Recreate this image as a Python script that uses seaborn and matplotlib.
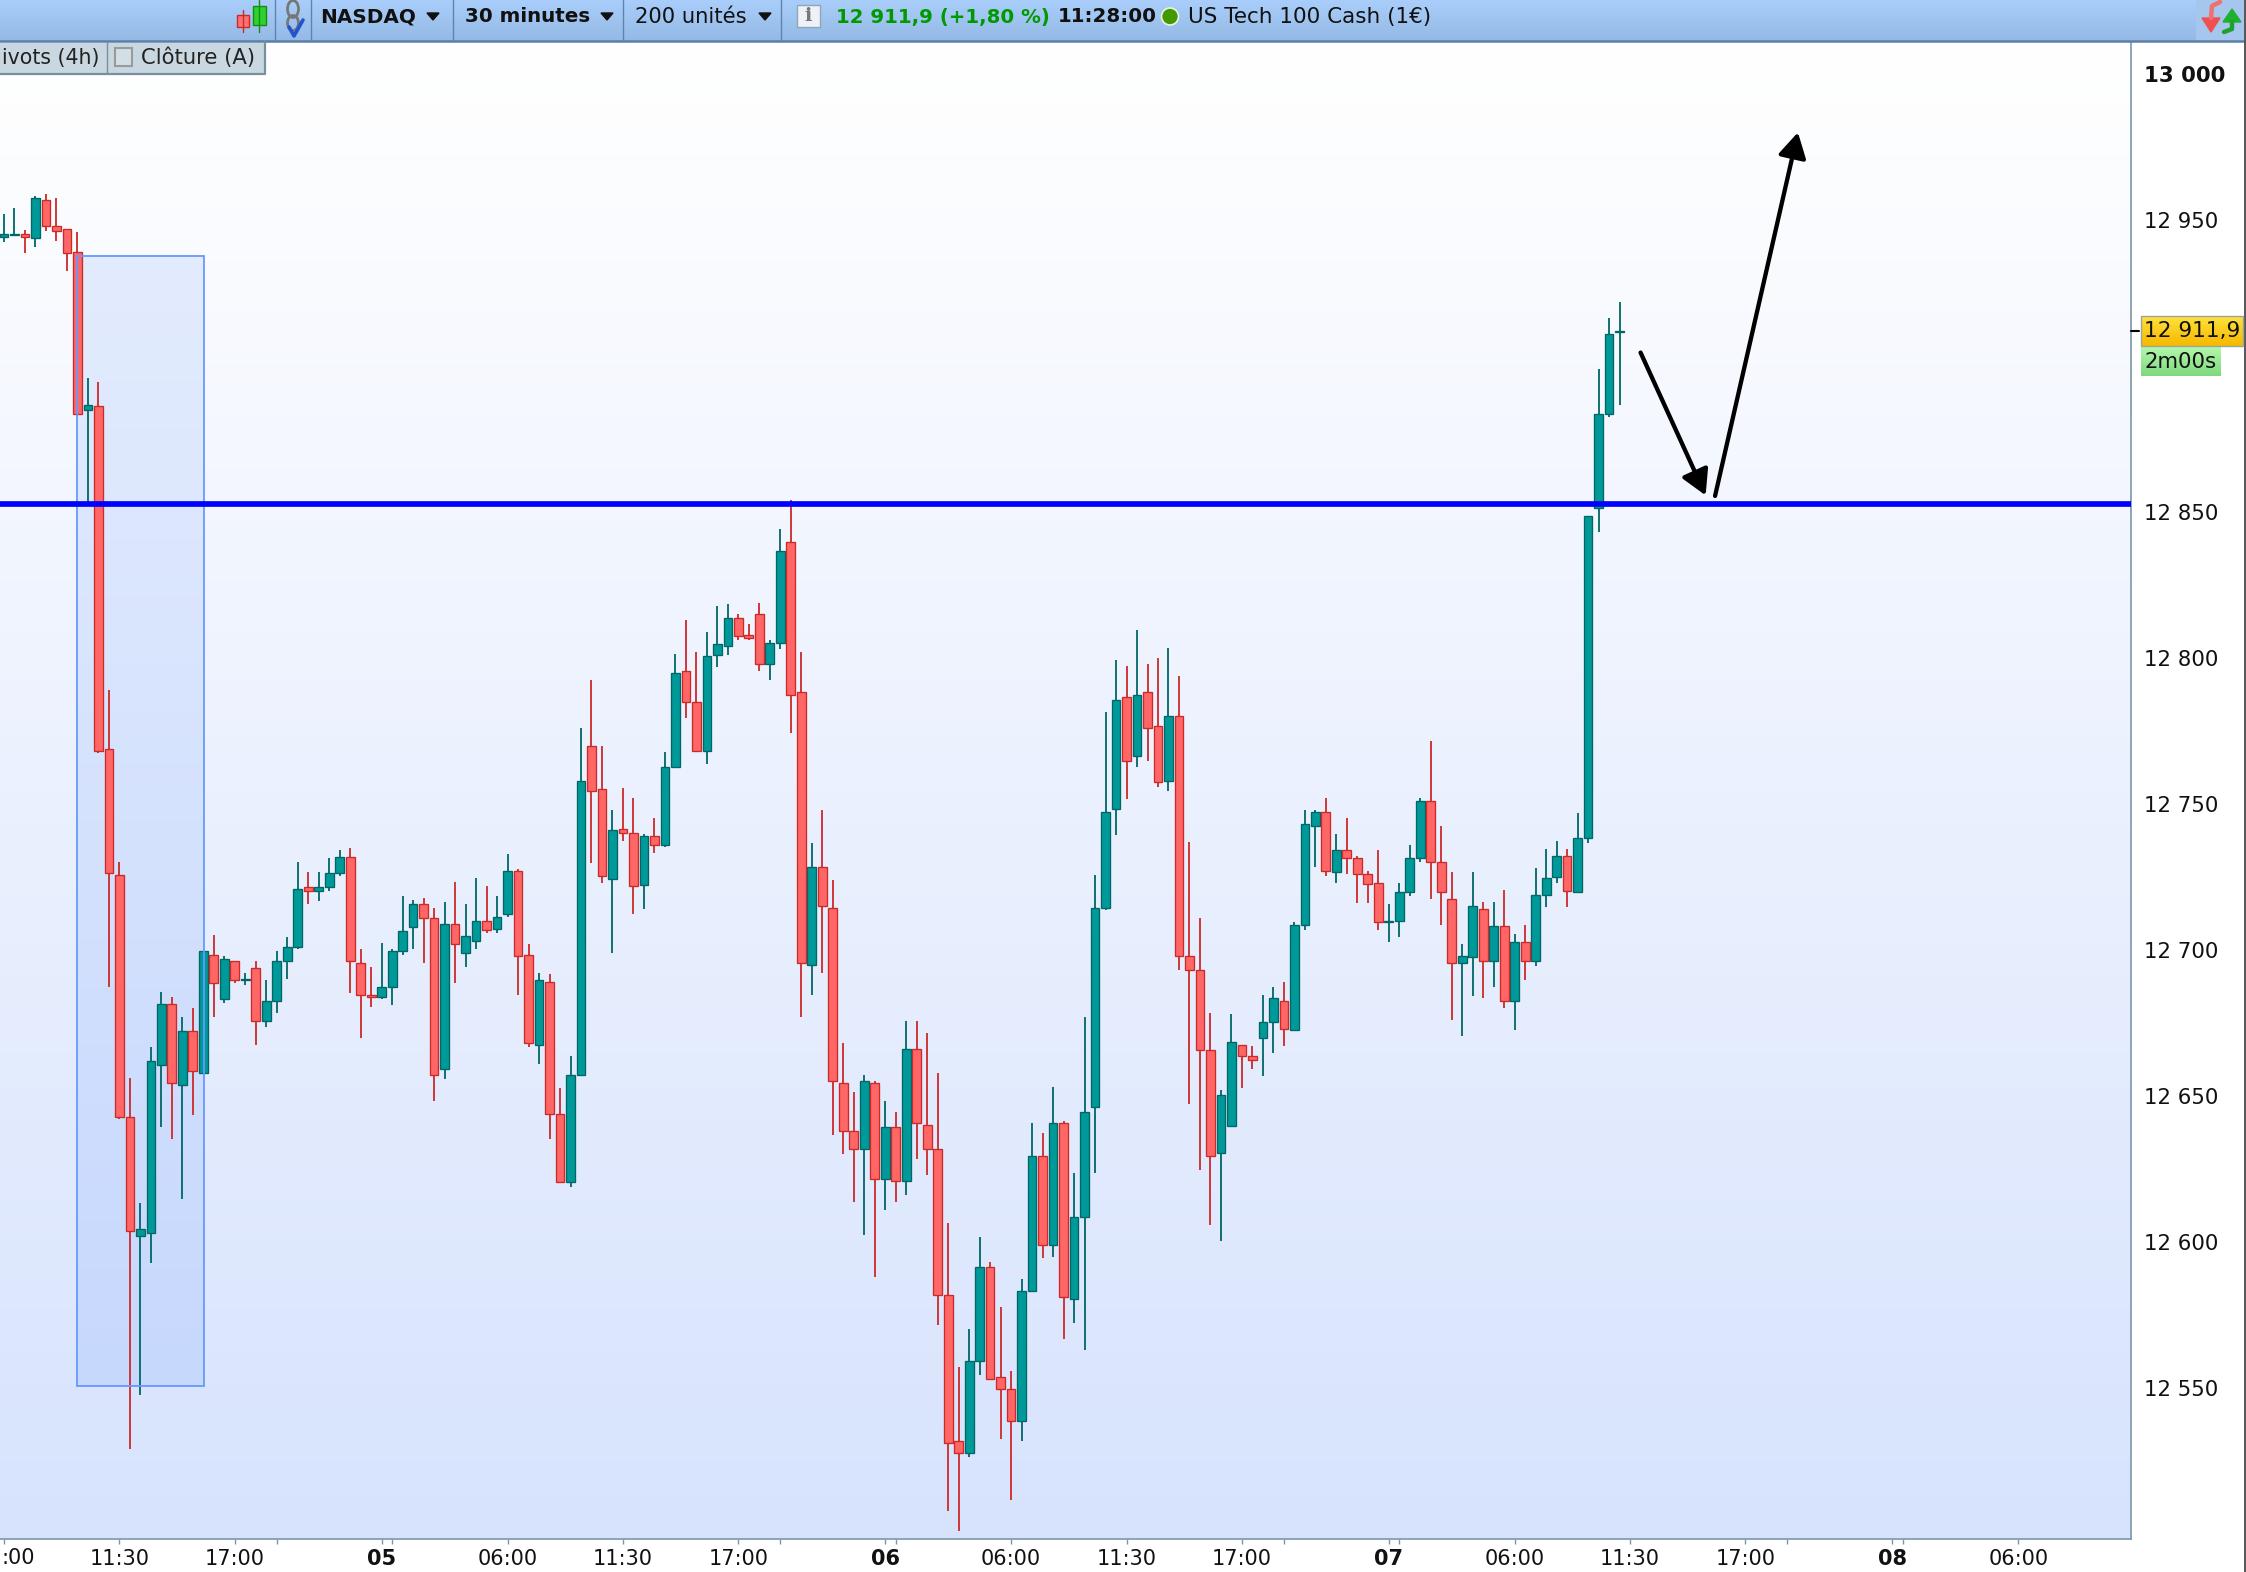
import numpy as np
import pandas as pd
import matplotlib
matplotlib.use("Agg")
import matplotlib.pyplot as plt
from matplotlib.colors import LinearSegmentedColormap
from matplotlib.patches import Rectangle, Polygon, Circle, Ellipse, FancyArrowPatch
import seaborn as sns

# candles (30 minute bars)
opens = [12944.3, 12944.8, 12945.2, 12943.7, 12956.7, 12947.8, 12947.0, 12939.0, 12884.8, 12886.2,
         12769.0, 12725.8, 12642.9, 12602.0, 12603.1, 12660.7, 12681.4, 12653.9, 12672.4, 12658.0,
         12698.4, 12683.3, 12696.3, 12689.6, 12693.7, 12675.8, 12682.6, 12696.3, 12701.2, 12721.7,
         12720.3, 12721.7, 12726.5, 12732.0, 12695.7, 12684.7, 12684.0, 12687.4, 12699.8, 12708.0,
         12715.7, 12710.8, 12659.4, 12708.8, 12699.0, 12703.2, 12710.0, 12707.3, 12712.2, 12727.2,
         12698.4, 12667.5, 12689.0, 12643.7, 12620.4, 12657.3, 12769.7, 12755.3, 12724.4, 12741.5,
         12740.2, 12722.4, 12739.0, 12736.0, 12762.8, 12795.7, 12784.8, 12768.3, 12801.2, 12804.0,
         12813.6, 12808.0, 12815.0, 12797.8, 12805.3, 12839.6, 12788.2, 12695.0, 12728.6, 12714.3,
         12654.6, 12638.1, 12631.9, 12654.6, 12621.7, 12639.5, 12621.0, 12666.2, 12640.2, 12631.9,
         12581.9, 12531.9, 12527.9, 12559.4, 12591.6, 12553.9, 12549.7, 12538.8, 12583.3, 12629.3,
         12599.0, 12640.9, 12580.5, 12608.7, 12646.4, 12714.3, 12748.4, 12786.8, 12766.3, 12788.2,
         12776.6, 12758.0, 12780.0, 12697.9, 12693.0, 12665.6, 12630.6, 12639.6, 12667.6, 12663.6,
         12669.7, 12675.3, 12682.7, 12672.5, 12708.7, 12742.4, 12747.1, 12726.6, 12734.1, 12731.4,
         12725.9, 12723.1, 12709.5, 12710.1, 12719.7, 12731.4, 12751.2, 12730.0, 12717.6, 12695.7,
         12697.7, 12714.2, 12696.4, 12708.1, 12682.7, 12702.6, 12696.4, 12719.0, 12725.1, 12732.1,
         12719.7, 12738.3, 12851.5, 12883.5, 12911.6]
closes = [12945.1, 12945.2, 12944.1, 12957.4, 12947.8, 12946.4, 12938.8, 12883.4, 12886.8, 12768.3,
          12726.5, 12642.9, 12603.9, 12604.5, 12662.1, 12681.4, 12654.5, 12672.4, 12658.6, 12699.8,
          12688.8, 12697.0, 12689.6, 12690.2, 12675.8, 12682.6, 12696.3, 12701.2, 12721.0, 12720.3,
          12721.7, 12726.5, 12732.0, 12696.3, 12684.7, 12684.0, 12687.5, 12699.8, 12706.6, 12715.6,
          12710.8, 12657.3, 12708.8, 12702.0, 12704.7, 12710.0, 12706.7, 12711.4, 12727.2, 12697.8,
          12668.3, 12689.6, 12643.7, 12620.4, 12657.3, 12758.0, 12754.5, 12725.2, 12741.0, 12740.2,
          12721.8, 12739.0, 12736.0, 12762.8, 12795.0, 12784.8, 12768.3, 12800.6, 12804.7, 12813.6,
          12807.5, 12806.7, 12797.8, 12805.3, 12836.8, 12787.4, 12695.7, 12728.6, 12715.0, 12655.3,
          12638.1, 12631.9, 12655.3, 12621.7, 12639.5, 12621.0, 12666.2, 12640.9, 12631.9, 12581.9,
          12531.2, 12527.9, 12559.4, 12591.6, 12553.2, 12549.7, 12538.8, 12583.3, 12629.3, 12599.0,
          12640.9, 12581.2, 12608.7, 12644.4, 12714.3, 12747.1, 12785.5, 12764.9, 12787.5, 12775.9,
          12757.4, 12780.0, 12697.9, 12693.0, 12665.6, 12629.4, 12650.5, 12668.4, 12663.6, 12662.3,
          12675.3, 12683.4, 12673.1, 12708.7, 12743.0, 12747.1, 12727.2, 12734.1, 12731.4, 12725.9,
          12722.5, 12709.5, 12710.1, 12719.7, 12731.4, 12751.2, 12730.0, 12719.7, 12695.7, 12697.9,
          12715.0, 12696.4, 12708.1, 12682.7, 12702.6, 12696.4, 12719.0, 12724.5, 12732.1, 12720.3,
          12738.3, 12848.5, 12883.5, 12910.9, 12911.9]
highs = [12952.1, 12954.0, 12946.6, 12958.2, 12959.0, 12957.6, 12947.0, 12946.0, 12895.8, 12894.6,
         12789.1, 12730.0, 12656.1, 12613.5, 12666.8, 12685.6, 12684.0, 12677.1, 12680.0, 12699.8,
         12705.3, 12697.8, 12696.3, 12692.2, 12696.3, 12689.6, 12699.8, 12704.5, 12730.0, 12726.6,
         12726.6, 12731.4, 12734.2, 12735.0, 12700.4, 12694.3, 12702.5, 12700.4, 12718.4, 12717.1,
         12717.7, 12714.3, 12716.5, 12723.3, 12715.7, 12724.6, 12722.0, 12718.5, 12732.8, 12727.9,
         12702.0, 12692.3, 12691.7, 12652.7, 12663.7, 12776.0, 12792.5, 12769.7, 12748.0, 12755.5,
         12752.0, 12739.6, 12745.2, 12767.7, 12801.3, 12813.0, 12802.0, 12808.8, 12817.7, 12818.5,
         12815.0, 12811.6, 12819.0, 12806.0, 12844.3, 12854.0, 12802.0, 12736.8, 12747.8, 12724.0,
         12668.2, 12651.3, 12657.3, 12655.3, 12648.3, 12644.4, 12675.8, 12675.8, 12671.7, 12658.0,
         12606.6, 12557.3, 12570.3, 12601.8, 12593.0, 12577.9, 12556.0, 12587.4, 12640.9, 12637.4,
         12653.2, 12641.6, 12623.8, 12677.2, 12725.8, 12781.5, 12799.3, 12797.2, 12809.6, 12797.9,
         12800.0, 12803.4, 12793.9, 12736.9, 12710.9, 12678.6, 12651.9, 12678.0, 12667.6, 12667.0,
         12684.7, 12687.5, 12688.9, 12709.5, 12748.0, 12747.9, 12751.9, 12739.6, 12745.1, 12732.1,
         12727.2, 12734.1, 12715.6, 12723.1, 12736.1, 12751.9, 12771.7, 12742.4, 12726.6, 12701.9,
         12726.6, 12716.4, 12716.4, 12720.4, 12705.4, 12708.7, 12728.0, 12734.7, 12737.5, 12734.7,
         12747.0, 12848.5, 12899.1, 12916.4, 12921.9]
lows = [12942.3, 12944.7, 12938.8, 12940.8, 12946.4, 12942.8, 12932.5, 12883.0, 12853.0, 12767.5,
        12687.4, 12642.2, 12529.0, 12547.6, 12592.9, 12639.4, 12635.3, 12614.8, 12643.5, 12658.0,
        12677.1, 12682.0, 12688.8, 12688.1, 12667.6, 12673.8, 12678.5, 12690.2, 12700.4, 12715.6,
        12716.9, 12720.3, 12725.2, 12685.3, 12669.7, 12680.6, 12683.3, 12681.2, 12698.4, 12700.4,
        12695.7, 12648.4, 12655.9, 12688.8, 12694.3, 12700.4, 12705.9, 12705.9, 12711.4, 12684.7,
        12666.9, 12660.8, 12635.4, 12620.4, 12618.8, 12657.3, 12729.8, 12722.9, 12699.0, 12737.4,
        12712.2, 12714.2, 12733.3, 12735.4, 12762.2, 12779.3, 12768.3, 12763.6, 12797.0, 12801.2,
        12806.0, 12806.0, 12795.7, 12792.3, 12803.2, 12774.4, 12677.2, 12684.7, 12692.3, 12636.7,
        12630.0, 12613.6, 12602.5, 12588.1, 12610.8, 12613.6, 12616.2, 12628.6, 12623.0, 12571.7,
        12508.0, 12501.0, 12526.5, 12554.6, 12553.2, 12532.6, 12511.5, 12531.9, 12583.3, 12594.4,
        12595.0, 12566.8, 12572.4, 12562.9, 12623.8, 12713.6, 12739.5, 12751.8, 12762.7, 12764.8,
        12755.9, 12754.5, 12693.0, 12647.1, 12624.5, 12606.0, 12600.5, 12639.6, 12652.6, 12659.4,
        12656.7, 12664.9, 12667.0, 12672.5, 12706.7, 12728.6, 12725.2, 12723.1, 12725.9, 12716.2,
        12716.2, 12706.7, 12702.6, 12704.6, 12718.4, 12730.0, 12717.6, 12708.7, 12675.9, 12670.4,
        12684.1, 12683.4, 12687.5, 12680.0, 12672.5, 12689.6, 12694.4, 12714.8, 12723.1, 12714.8,
        12719.7, 12736.8, 12843.0, 12882.7, 12886.5]

# axis labels
price_ticks = [13000, 12950, 12900, 12850, 12800, 12750, 12700, 12650, 12600, 12550]
time_ticks = [0, 11, 22, 26, 36, 37, 48, 59, 70, 74, 84, 85, 96, 107, 118, 122,
              132, 133, 144, 155, 166, 170, 180, 181, 192]
time_labels = ["", "11:30", "17:00", "", "05", "", "06:00", "11:30", "17:00", "", "06", "",
               "06:00", "11:30", "17:00", "", "07", "", "06:00", "11:30", "17:00", "", "08", "", "06:00"]
bold_labels = ["05", "06", "07", "08"]

# drawn objects on the chart
level = 12852.8
last_price = 12911.9
zone_idx = [7.0, 19.07]
zone_price = [12550.7, 12937.7]
arrow_down = [(156.0, 12904.6), (162.2, 12855.7)]
arrow_up = [(163.1, 12855.5), (171.0, 12980.0)]

UP_FILL, UP_EDGE = "#009999", "#006666"
DOWN_FILL, DOWN_EDGE = "#ff6666", "#cc2929"
AXIS_COL = "#7a97ab"
W, H = 2246, 1572
PLOT_RIGHT, PLOT_TOP, PLOT_BOTTOM = 2130.5, 41, 1539

sns.set_theme(style="white", font="DejaVu Sans")

df = pd.DataFrame({"idx": range(len(opens)), "open": opens, "close": closes, "high": highs, "low": lows})
df["bottom"] = df[["open", "close"]].min(axis=1)
df["body"] = (df["open"] - df["close"]).abs()
df["rising"] = df["close"] >= df["open"]

fig = plt.figure(figsize=(W / 100, H / 100), dpi=100, facecolor="white")
ax = fig.add_axes([0, (H - PLOT_BOTTOM) / H, PLOT_RIGHT / W, (PLOT_BOTTOM - PLOT_TOP) / H])


def vgrad(axis, extent, top, bottom, zorder=0):
    cmap = LinearSegmentedColormap.from_list("g", [top, bottom])
    axis.imshow(np.linspace(0, 1, 256).reshape(-1, 1), cmap=cmap, extent=extent, aspect="auto",
                origin="upper", zorder=zorder, interpolation="bilinear")


xlim = (-0.381, 202.7)
ylim = (12498.3, 13011.3)
vgrad(ax, [xlim[0], xlim[1], ylim[0], ylim[1]], "#ffffff", "#d7e3fd")
vgrad(ax, [zone_idx[0], zone_idx[1], zone_price[0], zone_price[1]], "#e3ecfd", "#c7d8fe", zorder=1)

for rising, fill, edge in [(True, UP_FILL, UP_EDGE), (False, DOWN_FILL, DOWN_EDGE)]:
    part = df[df["rising"] == rising]
    wicks = part.melt(id_vars="idx", value_vars=["high", "low"], value_name="price")
    sns.lineplot(data=wicks, x="idx", y="price", units="idx", estimator=None, color=edge, linewidth=1.3,
                 solid_capstyle="butt", legend=False, zorder=3, ax=ax)
    sns.barplot(data=part, x="idx", y="body", bottom=part["bottom"].values, native_scale=True, width=0.83,
                color=fill, saturation=1, edgecolor=edge, linewidth=0.95, errorbar=None, zorder=4, ax=ax)

ax.add_patch(Rectangle((zone_idx[0], zone_price[0]), zone_idx[1] - zone_idx[0], zone_price[1] - zone_price[0],
                       fill=False, edgecolor="#6699ff", linewidth=1.3, zorder=5))
ax.axhline(level, color="#0000ff", linewidth=4.1, zorder=6)
for start, tip in (arrow_down, arrow_up):
    ax.add_patch(FancyArrowPatch(start, tip, arrowstyle="-|>,head_length=1.5,head_width=0.85", mutation_scale=10,
                                 color="black", linewidth=3.1, shrinkA=0, shrinkB=0, zorder=7))

ax.set_xlim(*xlim)
ax.set_ylim(*ylim)
ax.set_xlabel("")
ax.set_ylabel("")
ax.yaxis.tick_right()
ax.set_yticks(price_ticks)
# 12 900 sits behind the price tags, so it has a tick but no label
ax.set_yticklabels(["" if p == 12900 else f"{p // 1000} {p % 1000:03d}" for p in price_ticks],
                   fontsize=15.3, color="#111111")
ax.get_yticklabels()[0].set_fontweight("bold")
ax.set_xticks(time_ticks)
ax.set_xticklabels(time_labels, fontsize=15, color="#111111")
for lab in ax.get_xticklabels():
    if lab.get_text() in bold_labels:
        lab.set_fontweight("bold")
ax.tick_params(axis="y", length=5.5, width=1, color=AXIS_COL, pad=4.5, right=True, left=False)
ax.tick_params(axis="x", length=3.5, width=1, color=AXIS_COL, pad=4, bottom=True)
sns.despine(ax=ax, left=True, top=True, right=False, bottom=False)
for side in ("right", "bottom"):
    ax.spines[side].set_color(AXIS_COL)
    ax.spines[side].set_linewidth(1.2)

# the program's toolbar and price tags, in picture pixels
ui = fig.add_axes([0, 0, 1, 1], zorder=10)
ui.set_xlim(0, W)
ui.set_ylim(H, 0)
ui.axis("off")
ui.patch.set_alpha(0)

vgrad(ui, [0, W, PLOT_TOP, 0], "#aacefb", "#94b9e4")
ui.plot([0, W], [41, 41], color="#5b7fa8", lw=1.8)
for sx in [275, 311, 453, 622.5, 781]:
    ui.plot([sx, sx], [0, 40], color="#5d84b0", lw=1)

# candle icon
ui.plot([243, 243], [10, 32], color="#cc2929", lw=1)
ui.add_patch(Rectangle((237, 15), 12, 12, facecolor="#ff7070", edgecolor="#cc2929", lw=1))
ui.plot([259, 259], [0, 32], color="#109010", lw=1)
ui.add_patch(Rectangle((253, 6), 13, 19, facecolor="#30d030", edgecolor="#109010", lw=1))
# chain icon with tick
ui.add_patch(Ellipse((293, 9), 11, 17, fill=False, edgecolor="#777777", lw=2))
ui.add_patch(Ellipse((293, 23), 11, 15, fill=False, edgecolor="#777777", lw=2))
ui.plot([289, 294, 303], [27, 36, 20], color="#2255cc", lw=2.6)

for tx in [433, 607, 765]:
    ui.add_patch(Polygon([(tx - 6, 13), (tx + 6, 13), (tx, 20)], color="#111111"))

ui.text(320, 17, "NASDAQ", fontsize=14.4, fontweight="bold", va="center", color="#111111")
ui.text(465, 17, "30 minutes", fontsize=14.3, fontweight="bold", va="center", color="#111111")
ui.text(635, 17, "200 unités", fontsize=15.2, va="center", color="#111111")
ui.add_patch(Rectangle((797, 5), 23, 22, facecolor="#eef2f6", edgecolor="#8fa5b8", lw=1))
ui.text(808.5, 16, "i", fontsize=14, fontweight="bold", ha="center", va="center", color="#777777", family="DejaVu Serif")
ui.text(836, 17, "12 911,9 (+1,80 %)", fontsize=14.2, va="center", color="#009900", fontweight="bold")
ui.text(1058, 17, "11:28:00", fontsize=14.3, fontweight="bold", va="center", color="#111111")
ui.add_patch(Circle((1170, 16.5), 8.5, facecolor="#449900", edgecolor="#e8f4e0", lw=1.2))
ui.text(1188, 17, "US Tech 100 Cash (1€)", fontsize=15.5, va="center", color="#111111")

# refresh icon
ui.add_patch(Rectangle((2196, 0), 48, 40, color="#a6c6ee"))
ui.add_patch(Polygon([(2202, 18), (2220, 18), (2211, 32)], color="#f05050"))
ui.plot([2220, 2212, 2211], [2, 6, 18], color="#f07070", lw=3.2)
ui.add_patch(Polygon([(2223, 22), (2241, 22), (2232, 9)], color="#20b030"))
ui.plot([2232, 2232, 2224], [22, 29, 32], color="#20a030", lw=3.2)

# tabs under the toolbar
ui.add_patch(Rectangle((0, 42.5), 265, 31, facecolor="#c9d8e0", edgecolor="none"))
ui.plot([0, 265, 265], [74, 74, 42], color="#76909f", lw=1.6)
ui.plot([107, 107], [42, 73], color="#76909f", lw=1)
ui.add_patch(Rectangle((115, 48), 17, 18, facecolor="#d2dfe6", edgecolor="#9a9a9a", lw=1.5))
ui.text(99, 58, "ivots (4h)", fontsize=14.8, ha="right", va="center", color="#222222")
ui.text(141, 58, "Clôture (A)", fontsize=15.2, va="center", color="#222222")

# date label cut by the left edge of the window
ui.text(1, 1558, ":00", fontsize=15, va="center", color="#111111")

# price tags on the right
vgrad(ui, [2141, 2243, 346, 316], "#ffe23c", "#f6b800", zorder=2)
ui.add_patch(Rectangle((2141, 316), 102, 30, fill=False, edgecolor="#9aa5a0", lw=1, zorder=3))
vgrad(ui, [2141, 2221, 376, 346], "#b4f9ac", "#7fd87f", zorder=2)
ui.text(2144, 331, f"{last_price:,.1f}".replace(",", " ").replace(".", ","), fontsize=15.6, va="center",
        color="#111111", zorder=4)
ui.text(2145, 362, "2m00s", fontsize=15.3, va="center", color="#111111", zorder=4)
ui.plot([2131, 2139], [331, 331], color="black", lw=1.5)
ui.plot([2245, 2245], [0, H], color="#555555", lw=1.4)

ui.set_xlim(0, W)
ui.set_ylim(H, 0)
fig.savefig("out.png", dpi=100)
plt.close(fig)
